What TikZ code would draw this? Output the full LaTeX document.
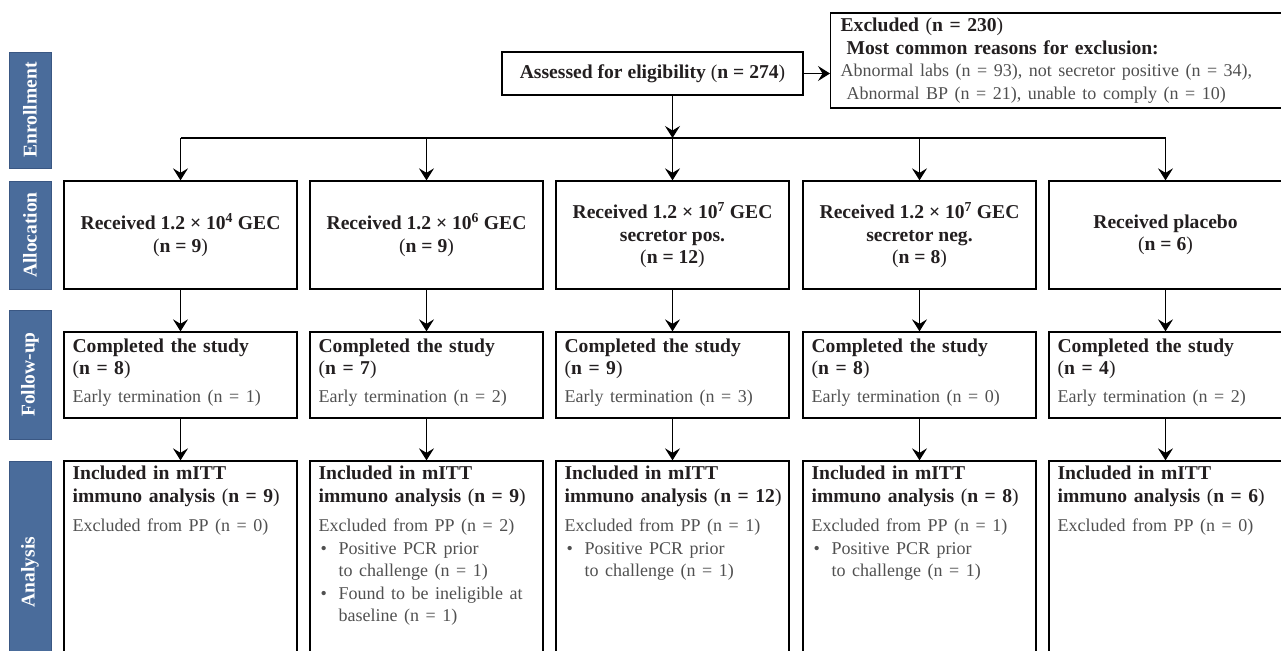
\documentclass[tikz,border=0pt]{standalone}
\usepackage{fontspec}
\setmainfont{Liberation Serif}
\usetikzlibrary{positioning}
\usetikzlibrary{arrows.meta}
\definecolor{phaseblue}{HTML}{4A6C9B}
\definecolor{phaseedge}{HTML}{3A5783}
\definecolor{txtdark}{HTML}{231F20}
\definecolor{txtgrey}{HTML}{505050}
\newcommand{\fs}{\fontsize{19.6}{22.5}\selectfont}
\newcommand{\np}[1]{\textmd{(}#1\textmd{)}}
\newcommand{\gr}[1]{{\color{txtgrey}\mdseries\fontsize{18}{22.5}\selectfont #1}}
\newcommand{\bul}{\makebox[20pt][l]{\hspace{2pt}\textbullet}}
\tikzset{>={Stealth[length=12pt,width=15pt,inset=4.5pt]}}
\tikzset{phase/.style={draw=phaseedge,fill=phaseblue,line width=0.8pt,text=white,font=\fontsize{19.5}{22}\selectfont\bfseries,rotate=90,inner sep=0pt,minimum height=42pt}}
\tikzset{box/.style={draw,line width=1.3pt,inner sep=0pt,text=txtdark}}
\tikzset{grp/.style={box,align=center,font=\fs\bfseries,minimum width=233pt,minimum height=108pt}}
\tikzset{fup/.style={box,minimum width=233pt,minimum height=86pt}}
\tikzset{anl/.style={box,minimum width=233pt,minimum height=222pt}}
\tikzset{txt/.style={anchor=north west,inner sep=0pt,text width=228pt,align=left,font=\fs,text=txtdark}}

\begin{document}
\begin{tikzpicture}[x=1pt,y=-1pt]
\useasboundingbox (0,0) rectangle (1281,650);

\node[phase,minimum width=116pt] (enrol) at (30,110) {Enrollment};
\node[phase,minimum width=108pt] (alloc) at (30,235) {Allocation};
\node[phase,minimum width=129pt] (follow) at (30,374.5) {Follow-up};
\node[phase,minimum width=222pt] (anal) at (30,572) {Analysis};

\node[box,font=\fs\bfseries,minimum width=301pt,minimum height=43pt] (assess) at (652.5,73.5) {Assessed for eligibility \np{n = 274}};
\node[box,anchor=west,align=left,font=\fs,text width=433pt,inner xsep=10pt,minimum height=95pt] (excl) at (830,60.5)
 {\textbf{Excluded \np{n = 230}}\\
  \hspace*{6pt}\textbf{Most common reasons for exclusion:}\\
  \gr{Abnormal labs (n = 93), not secretor positive (n = 34),}\\
  \gr{\hspace*{6pt}Abnormal BP (n = 21), unable to comply (n = 10)}};

\node[grp] (a1) at (180.5,235) {Received 1.2 × 10\textsuperscript{4} GEC\\\np{n = 9}};
\node[grp] (a2) at (426.5,235) {Received 1.2 × 10\textsuperscript{6} GEC\\\np{n = 9}};
\node[grp] (a3) at (672.5,235) {Received 1.2 × 10\textsuperscript{7} GEC\\secretor pos.\\\np{n = 12}};
\node[grp] (a4) at (919.5,235) {Received 1.2 × 10\textsuperscript{7} GEC\\secretor neg.\\\np{n = 8}};
\node[grp] (a5) at (1165.5,235) {Received placebo\\\np{n = 6}};

\node[fup] (f1) at (180.5,375) {};
\node[fup] (f2) at (426.5,375) {};
\node[fup] (f3) at (672.5,375) {};
\node[fup] (f4) at (919.5,375) {};
\node[fup] (f5) at (1165.5,375) {};
\node[txt] (f1t) at ([shift={(9pt,-7pt)}]f1.north west) {\textbf{Completed the study}\\\textbf{\np{n = 8}}\\[5pt]\gr{Early termination (n = 1)}};
\node[txt] (f2t) at ([shift={(9pt,-7pt)}]f2.north west) {\textbf{Completed the study}\\\textbf{\np{n = 7}}\\[5pt]\gr{Early termination (n = 2)}};
\node[txt] (f3t) at ([shift={(9pt,-7pt)}]f3.north west) {\textbf{Completed the study}\\\textbf{\np{n = 9}}\\[5pt]\gr{Early termination (n = 3)}};
\node[txt] (f4t) at ([shift={(9pt,-7pt)}]f4.north west) {\textbf{Completed the study}\\\textbf{\np{n = 8}}\\[5pt]\gr{Early termination (n = 0)}};
\node[txt] (f5t) at ([shift={(9pt,-7pt)}]f5.north west) {\textbf{Completed the study}\\\textbf{\np{n = 4}}\\[5pt]\gr{Early termination (n = 2)}};

\node[anl] (n1) at (180.5,572) {};
\node[anl] (n2) at (426.5,572) {};
\node[anl] (n3) at (672.5,572) {};
\node[anl] (n4) at (919.5,572) {};
\node[anl] (n5) at (1165.5,572) {};
\node[txt] (n1t) at ([shift={(9pt,-5.5pt)}]n1.north west) {\textbf{Included in mITT}\\\textbf{immuno analysis \np{n = 9}}\\[7pt]\gr{Excluded from PP (n = 0)}};
\node[txt] (n2t) at ([shift={(9pt,-5.5pt)}]n2.north west) {\textbf{Included in mITT}\\\textbf{immuno analysis \np{n = 9}}\\[7pt]\gr{Excluded from PP (n = 2)}\\
 \gr{\bul Positive PCR prior}\\\gr{\hspace*{20pt}to challenge (n = 1)}\\
 \gr{\bul Found to be ineligible at}\\\gr{\hspace*{20pt}baseline (n = 1)}};
\node[txt] (n3t) at ([shift={(9pt,-5.5pt)}]n3.north west) {\textbf{Included in mITT}\\\textbf{immuno analysis \np{n = 12}}\\[7pt]\gr{Excluded from PP (n = 1)}\\
 \gr{\bul Positive PCR prior}\\\gr{\hspace*{20pt}to challenge (n = 1)}};
\node[txt] (n4t) at ([shift={(9pt,-5.5pt)}]n4.north west) {\textbf{Included in mITT}\\\textbf{immuno analysis \np{n = 8}}\\[7pt]\gr{Excluded from PP (n = 1)}\\
 \gr{\bul Positive PCR prior}\\\gr{\hspace*{20pt}to challenge (n = 1)}};
\node[txt] (n5t) at ([shift={(9pt,-5.5pt)}]n5.north west) {\textbf{Included in mITT}\\\textbf{immuno analysis \np{n = 6}}\\[7pt]\gr{Excluded from PP (n = 0)}};

\coordinate (split) at (672.5,138);

\begin{scope}[line width=1.3pt]
\draw[->] (assess.east) -- (assess.east -| excl.west);
\draw[->] (assess.south -| split) -- (split);
\draw (split -| a1.north) -- (split -| a5.north);
\foreach \c in {1,...,5} {
 \draw[->] (split -| a\c.north) -- (a\c.north);
 \draw[->] (a\c) -- (f\c);
 \draw[->] (f\c) -- (n\c);
}
\end{scope}
\end{tikzpicture}
\end{document}
